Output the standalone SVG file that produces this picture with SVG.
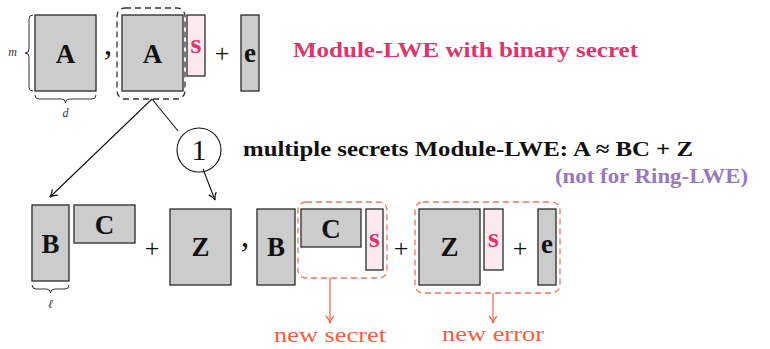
<svg xmlns="http://www.w3.org/2000/svg" width="770" height="349" viewBox="0 0 770 349">
<defs>
<style>
.mat{fill:#cccccc;stroke:#2a2a2a;stroke-width:1.3}
.sec{fill:#fbe9ef;stroke:#2a2a2a;stroke-width:1.3}
.lbl{font-family:"Liberation Serif",serif;font-weight:bold;font-size:27px;fill:#111;text-anchor:middle}
.slbl{font-family:"Liberation Serif",serif;font-weight:bold;font-size:28px;fill:#de3468;text-anchor:middle}
.op{font-family:"Liberation Serif",serif;font-size:26px;fill:#111;text-anchor:middle}
.cm{font-family:"Liberation Serif",serif;font-size:34px;fill:#111;text-anchor:middle}
.dim{font-family:"Liberation Serif",serif;font-style:italic;font-size:12px;fill:#333;text-anchor:middle}
.brace{fill:none;stroke:#333;stroke-width:1}
.dash{fill:none;stroke:#333;stroke-width:1.3;stroke-dasharray:6 4}
.odash{fill:none;stroke:#f2735a;stroke-width:1.3;stroke-dasharray:6 4}
.conn{fill:none;stroke:#111;stroke-width:1.1}
.oconn{fill:none;stroke:#f2603f;stroke-width:1.2}
.head{font-family:"Liberation Serif",serif;font-weight:bold;font-size:21px}
.note{font-family:"Liberation Serif",serif;font-size:22px;fill:#f2603f}
</style>
<marker id="arr" markerWidth="10" markerHeight="10" refX="8" refY="5" orient="auto" markerUnits="userSpaceOnUse">
<path d="M1,1 Q4,4 8,5 Q4,6 1,9" fill="none" stroke="#111" stroke-width="1.2"/>
</marker>
<marker id="oarr" markerWidth="10" markerHeight="10" refX="8" refY="5" orient="auto" markerUnits="userSpaceOnUse">
<path d="M1,1 Q4,4 8,5 Q4,6 1,9" fill="none" stroke="#f2603f" stroke-width="1.2"/>
</marker>
</defs>
<rect width="770" height="349" fill="#ffffff"/>

<g id="top-row">
<g id="brace-m">
<path class="brace" d="M33,15 Q29,15 29,19 L29,49 Q29,53 25,53 Q29,53 29,57 L29,87 Q29,91 33,91"/>
<text class="dim" x="12.5" y="56">m</text>
</g>
<g id="A1">
<rect class="mat" x="35" y="15" width="61" height="76"/>
<text class="lbl" x="65.5" y="63" font-size="25">A</text>
</g>
<g id="brace-d">
<path class="brace" d="M35,95 Q35,99 39,99 L61.5,99 Q65.5,99 65.5,103 Q65.5,99 69.5,99 L92,99 Q96,99 96,95"/>
<text class="dim" x="65.5" y="117">d</text>
</g>
<text class="cm" x="108" y="55">,</text>
<g id="A2-group">
<rect class="dash" x="117" y="8" width="68" height="91" rx="8"/>
<rect class="mat" x="122" y="15" width="61" height="76"/>
<text class="lbl" x="152.5" y="63" font-size="25">A</text>
</g>
<g id="s1">
<rect class="sec" x="187" y="15" width="18" height="61"/>
<text class="slbl" x="196" y="53">s</text>
</g>
<text class="op" x="222" y="62">+</text>
<g id="e1">
<rect class="mat" x="241" y="15" width="18" height="76"/>
<text class="lbl" x="250" y="62" font-size="32">e</text>
</g>
<text class="head" x="293" y="57" fill="#de3468" textLength="345" lengthAdjust="spacingAndGlyphs">Module-LWE with binary secret</text>
</g>

<g id="step1">
<circle cx="199" cy="150" r="22" fill="#fff" stroke="#111" stroke-width="1.1"/>
<text x="199" y="160" font-family="Liberation Serif, serif" font-size="30" text-anchor="middle" fill="#111">1</text>
</g>
<text class="head" x="243" y="156" fill="#111" textLength="450" lengthAdjust="spacingAndGlyphs">multiple secrets Module-LWE: A ≈ BC + Z</text>
<text class="head" x="555" y="183" fill="#9a78be" textLength="193" lengthAdjust="spacingAndGlyphs">(not for Ring-LWE)</text>

<g id="bottom-left">
<g id="B1">
<rect class="mat" x="32" y="205" width="37" height="76"/>
<text class="lbl" x="50.5" y="253">B</text>
</g>
<g id="brace-l">
<path class="brace" d="M32,285 Q32,289 36,289 L46.5,289 Q50.5,289 50.5,293 Q50.5,289 54.5,289 L65,289 Q69,289 69,285"/>
<text class="dim" x="50.5" y="308">ℓ</text>
</g>
<g id="C1">
<rect class="mat" x="74" y="205" width="61" height="38"/>
<text class="lbl" x="104.5" y="234">C</text>
</g>
<text class="op" x="152" y="257">+</text>
<g id="Z1">
<rect class="mat" x="170" y="209" width="61" height="76"/>
<text class="lbl" x="200.5" y="256">Z</text>
</g>
<text class="cm" x="245" y="247">,</text>
</g>

<g id="bottom-right">
<g id="B2">
<rect class="mat" x="257" y="209" width="38" height="76"/>
<text class="lbl" x="276" y="256">B</text>
</g>
<g id="new-secret-group">
<rect class="odash" x="298" y="202" width="89" height="76" rx="8"/>
<rect class="mat" x="301" y="209" width="60" height="38"/>
<text class="lbl" x="331" y="238">C</text>
<rect class="sec" x="366" y="209" width="17" height="61"/>
<text class="slbl" x="374.5" y="247" font-size="27">s</text>
</g>
<text class="op" x="401" y="257">+</text>
<g id="new-error-group">
<rect class="odash" x="415" y="202" width="145" height="91" rx="8"/>
<rect class="mat" x="419" y="209" width="61" height="76"/>
<text class="lbl" x="449.5" y="256">Z</text>
<rect class="sec" x="484" y="209" width="19" height="61"/>
<text class="slbl" x="493.5" y="247" font-size="27">s</text>
<text class="op" x="520" y="257">+</text>
<rect class="mat" x="538" y="209" width="18" height="76"/>
<text class="lbl" x="547" y="253" font-size="30">e</text>
</g>
<text class="note" x="274" y="342" textLength="112" lengthAdjust="spacingAndGlyphs">new secret</text>
<text class="note" x="442" y="341" textLength="102" lengthAdjust="spacingAndGlyphs">new error</text>
</g>

<g id="connectors">
<path class="conn" d="M152,99 L50,197" marker-end="url(#arr)"/>
<path class="conn" d="M152,99 L178,131"/>
<path class="conn" d="M203,169 L215,200" marker-end="url(#arr)"/>
<path class="oconn" d="M330,278 L330,323" marker-end="url(#oarr)"/>
<path class="oconn" d="M493,293 L493,323" marker-end="url(#oarr)"/>
</g>
</svg>
